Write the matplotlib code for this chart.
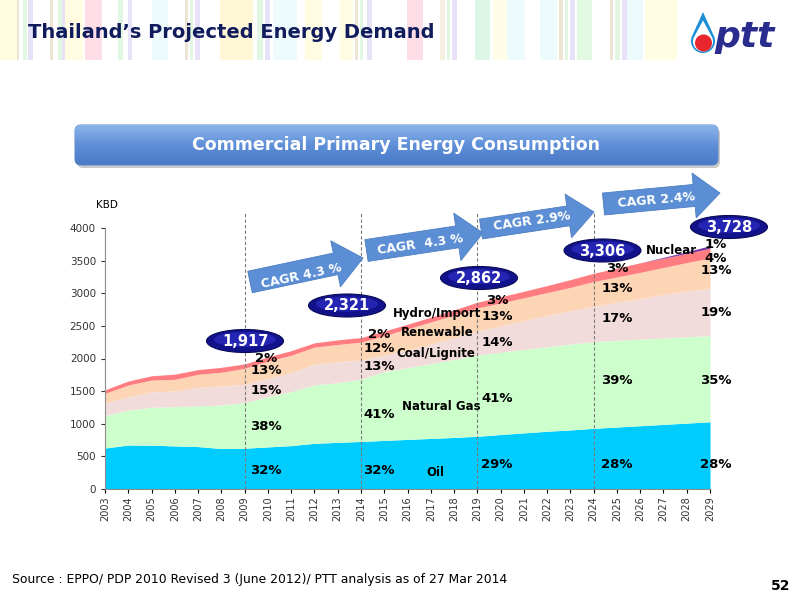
import numpy as np
import matplotlib
matplotlib.use("Agg")
import matplotlib.pyplot as plt
from matplotlib.patches import Ellipse, FancyArrow, FancyBboxPatch, Rectangle, Circle, Polygon
from matplotlib.colors import LinearSegmentedColormap

# ── DATA (KBD, cumulative layer tops) ────────────────────────────
years = np.arange(2003, 2030)

oil_top = [628, 674, 672, 660, 650, 620, 625, 645, 665, 700, 715, 728, 745, 760,
           775, 790, 808, 835, 860, 885, 905, 930, 950, 970, 990, 1010, 1030]
gas_top = [1124, 1211, 1252, 1262, 1272, 1287, 1323, 1415, 1492, 1594, 1629, 1681, 1800, 1860,
           1920, 1985, 2050, 2095, 2140, 2180, 2220, 2258, 2278, 2296, 2314, 2332, 2350]
coal_top = [1313, 1415, 1487, 1502, 1558, 1579, 1604, 1696, 1782, 1915, 1951, 1977, 2050, 2130,
            2220, 2320, 2420, 2500, 2580, 2660, 2730, 2800, 2860, 2920, 2980, 3035, 3075]
renew_top = [1466, 1594, 1670, 1681, 1758, 1789, 1850, 1960, 2050, 2175, 2215, 2250, 2350, 2455,
             2560, 2665, 2775, 2850, 2930, 3010, 3090, 3180, 3250, 3320, 3395, 3470, 3540]
total = [1520, 1655, 1735, 1760, 1830, 1865, 1917, 2025, 2120, 2240, 2285, 2321, 2421, 2525,
         2633, 2746, 2862, 2945, 3030, 3118, 3209, 3306, 3386, 3467, 3550, 3636, 3728]
nuclear = [0, 0, 0, 0, 0, 0, 0, 0, 0, 0, 0, 0, 0, 0,
           0, 0, 0, 0, 0, 0, 0, 0, 0, 0, 12, 25, 37]

milestone_years = [2009, 2014, 2019, 2024, 2029]
milestone_totals = ["1,917", "2,321", "2,862", "3,306", "3,728"]
cagr_labels = ["CAGR 4.3 %", "CAGR  4.3 %", "CAGR 2.9%", "CAGR 2.4%"]

# shares per milestone, top to bottom
shares = [
    ["2%", "13%", "15%", "38%", "32%"],
    ["2%", "12%", "13%", "41%", "32%"],
    ["3%", "13%", "14%", "41%", "29%"],
    ["3%", "13%", "17%", "39%", "28%"],
    ["1%", "4%", "13%", "19%", "35%", "28%"],
]
layer_names = ["Hydro/Import", "Renewable", "Coal/Lignite", "Natural Gas", "Oil", "Nuclear"]

colors = {"oil": "#00CCFF", "gas": "#CCFFCC", "coal": "#F2DCDB",
          "renew": "#FCD5B4", "hydro": "#FF7C80", "nuclear": "#7030A0"}

hydro_top = np.array(total) - np.array(nuclear)

# ── FIGURE ───────────────────────────────────────────────────────
fig = plt.figure(figsize=(8, 6), dpi=100)
fig.patch.set_facecolor("white")

ax = fig.add_axes([105/800, 1-489/600, 605/800, 261/600])
prev = np.zeros(len(years))
layers = [(oil_top, "oil"), (gas_top, "gas"), (coal_top, "coal"),
          (renew_top, "renew"), (hydro_top, "hydro"), (total, "nuclear")]
for top, key in layers:
    ax.fill_between(years, prev, top, color=colors[key], linewidth=0)
    prev = np.array(top)

ax.set_xlim(2003, 2029)
ax.set_ylim(0, 4000)
ax.set_yticks(np.arange(0, 4001, 500))
ax.set_xticks(years)
ax.set_xticklabels([str(y) for y in years], rotation=90, fontsize=7, color="#333333")
ax.tick_params(axis="y", labelsize=7.5, colors="#333333", length=3)
ax.tick_params(axis="x", length=3, pad=2)
for s in ["top", "right"]:
    ax.spines[s].set_visible(False)
for s in ["left", "bottom"]:
    ax.spines[s].set_color("#8C8C8C")

for yr in milestone_years[:-1]:
    ax.axvline(yr, ymin=0, ymax=(489-213)/261, clip_on=False, color="#7A7A7A",
               linestyle=(0, (3, 2)), linewidth=0.8, zorder=3)

# ── OVERLAY (pixel coords) ───────────────────────────────────────
ov = fig.add_axes([0, 0, 1, 1], zorder=5)
ov.set_xlim(0, 800)
ov.set_ylim(600, 0)
ov.axis("off")
ov.patch.set_alpha(0)

# header stripes
stripes = [
    (0, 17, "#FFFDE0"), (17, 18.5, "#EEE4D4"), (23, 27, "#E2F7E2"), (28, 33, "#E8E2F8"),
    (50, 53, "#EEE4D4"), (58, 62, "#E2F7E2"), (62, 65, "#E8E2F8"), (65, 83, "#FFFCE2"),
    (85, 102, "#FFDDE6"), (118, 123, "#E2F7E2"), (128, 132, "#E8E2F8"), (152, 168, "#EDFBFC"),
    (185, 188, "#EEE4D4"), (190, 193, "#E2F7E2"), (195, 200, "#E8E2F8"), (220, 253, "#FFF7D6"),
    (257, 263, "#E2F7E2"), (265, 270, "#E8E2F8"), (273, 297, "#EDFBFC"), (305, 322, "#FFFCE2"),
    (340, 353, "#FFFCE2"), (355, 358, "#EEE4D4"), (360, 363, "#E2F7E2"), (367, 372, "#E8E2F8"),
    (407, 423, "#FFDDE6"), (440, 445, "#F4EFDE"), (447, 450, "#E2F7E2"), (452, 457, "#E8E2F8"),
    (475, 490, "#DDF7E6"), (493, 507, "#FFFCE8"), (507, 525, "#EEFBFC"), (540, 557, "#EEFBFC"),
    (559, 563, "#EEE4D4"), (565, 568, "#E2F7E2"), (570, 575, "#E8E2F8"), (577, 592, "#E0F9E0"),
    (610, 613, "#EEE4D4"), (615, 620, "#E2F7E2"), (622, 627, "#E8E2F8"), (627, 643, "#EEFBFC"),
    (645, 677, "#FFFDE2"),
]
for x0, x1, c in stripes:
    ov.add_patch(Rectangle((x0, 0), x1 - x0, 60, color=c, linewidth=0))

ov.text(28, 32, "Thailand\u2019s Projected Energy Demand", fontsize=14, fontweight="bold",
        color="#101C5C", va="center", ha="left")

# logo: teardrop with red core
def teardrop(cx, cy, r, tip):
    phi = np.degrees(np.arccos(r / tip))
    ang = np.radians(np.linspace(90 - phi, 90 - phi - (360 - 2 * phi), 48))
    pts = [[cx + r * np.cos(t), cy - r * np.sin(t)] for t in ang]
    return [[cx, cy - tip]] + pts

ov.add_patch(Polygon(teardrop(703, 41, 12, 29), closed=True, color="#1E8FD6", linewidth=0))
ov.add_patch(Polygon(teardrop(703, 41.5, 10, 21), closed=True, color="white", linewidth=0))
ov.add_patch(Circle((703.5, 43), 8.5, color="#E8262D", linewidth=0))
ov.text(714, 37, "ptt", fontsize=26, fontweight="bold", fontstyle="italic",
        color="#2B2D8E", va="center", ha="left")

# banner
ov.add_patch(FancyBboxPatch((77, 128), 643, 40, boxstyle="round,pad=0,rounding_size=6",
                            facecolor="#C8C8C8", edgecolor="none"))
banner = FancyBboxPatch((75, 125), 643, 40, boxstyle="round,pad=0,rounding_size=6",
                        facecolor="none", edgecolor="#6C95CF", linewidth=0.8)
ov.add_patch(banner)
grad = LinearSegmentedColormap.from_list("bn", ["#8DB4EA", "#5E8FD8", "#4A7AC6"])
im = ov.imshow(np.linspace(0, 1, 60).reshape(-1, 1), cmap=grad, aspect="auto",
               extent=[75, 718, 165, 125], zorder=1)
im.set_clip_path(banner)
ov.text(396, 145, "Commercial Primary Energy Consumption", fontsize=12.5, fontweight="bold",
        color="white", ha="center", va="center", zorder=2)

# CAGR arrows
arrows = [((250, 282), (363, 258), 22, 47, 28),
          ((366.5, 250.5), (483, 233), 22, 48, 26),
          ((481, 229), (594, 212), 20, 44, 26),
          ((603.5, 204), (720, 193), 22, 45, 26)]
arrow_text = [(301, 276, 12), (420, 245, 8), (532, 221, 8), (656, 200, 5)]
for (t, h, w, hw, hl), (tx, ty, rot), lab in zip(arrows, arrow_text, cagr_labels):
    ov.add_patch(FancyArrow(t[0], t[1], h[0] - t[0], h[1] - t[1], width=w, head_width=hw,
                            head_length=hl, length_includes_head=True,
                            facecolor="#5B8ED4", edgecolor="#4C7DC2", linewidth=0.6, zorder=3))
    ov.text(tx, ty, lab, fontsize=9, fontweight="bold", color="white", rotation=rot,
            rotation_mode="anchor", ha="center", va="center", zorder=4)

# total ellipses
ell_pos = [(245, 341), (347, 305.5), (479, 278), (602.5, 250.5), (729, 227)]
for (cx, cy), lab in zip(ell_pos, milestone_totals):
    ov.add_patch(Ellipse((cx, cy), 77, 23, facecolor="#12128A", edgecolor="#0A0A5A",
                         linewidth=0.8, zorder=6))
    ov.add_patch(Ellipse((cx, cy - 1.5), 62, 15, facecolor="#2A2ABE", edgecolor="none",
                         alpha=0.8, zorder=6))
    ov.text(cx, cy + 0.5, lab, fontsize=10.5, fontweight="bold", color="white",
            ha="center", va="center", zorder=7)

# share labels
share_pos = [
    (266, [358, 371, 390, 427, 470]),
    (379, [335, 348, 367, 415, 470]),
    (497, [300, 316, 343, 399, 464]),
    (617, [269, 288, 318, 381, 464]),
    (716, [245, 258, 271, 313, 380, 464]),
]
for (cx, ys), labs in zip(share_pos, shares):
    for y, lab in zip(ys, labs):
        ov.text(cx, y, lab, fontsize=9.5, fontweight="bold", color="black",
                ha="center", va="center", zorder=8)

name_pos = [(437, 314), (437, 332), (436, 354), (441, 407), (435, 473), (671, 250)]
for (x, y), lab in zip(name_pos, layer_names):
    ov.text(x, y, lab, fontsize=8.5, fontweight="bold", color="black",
            ha="center", va="center", zorder=8)

ov.text(96, 205, "KBD", fontsize=7.5, color="black", ha="left", va="center")

ov.text(12, 580, "Source : EPPO/ PDP 2010 Revised 3 (June 2012)/ PTT analysis as of 27 Mar 2014",
        fontsize=8.9, color="black", ha="left", va="center")
ov.text(790, 586, "52", fontsize=10, fontweight="bold", color="black", ha="right", va="center")

fig.savefig("out.png", dpi=100)
